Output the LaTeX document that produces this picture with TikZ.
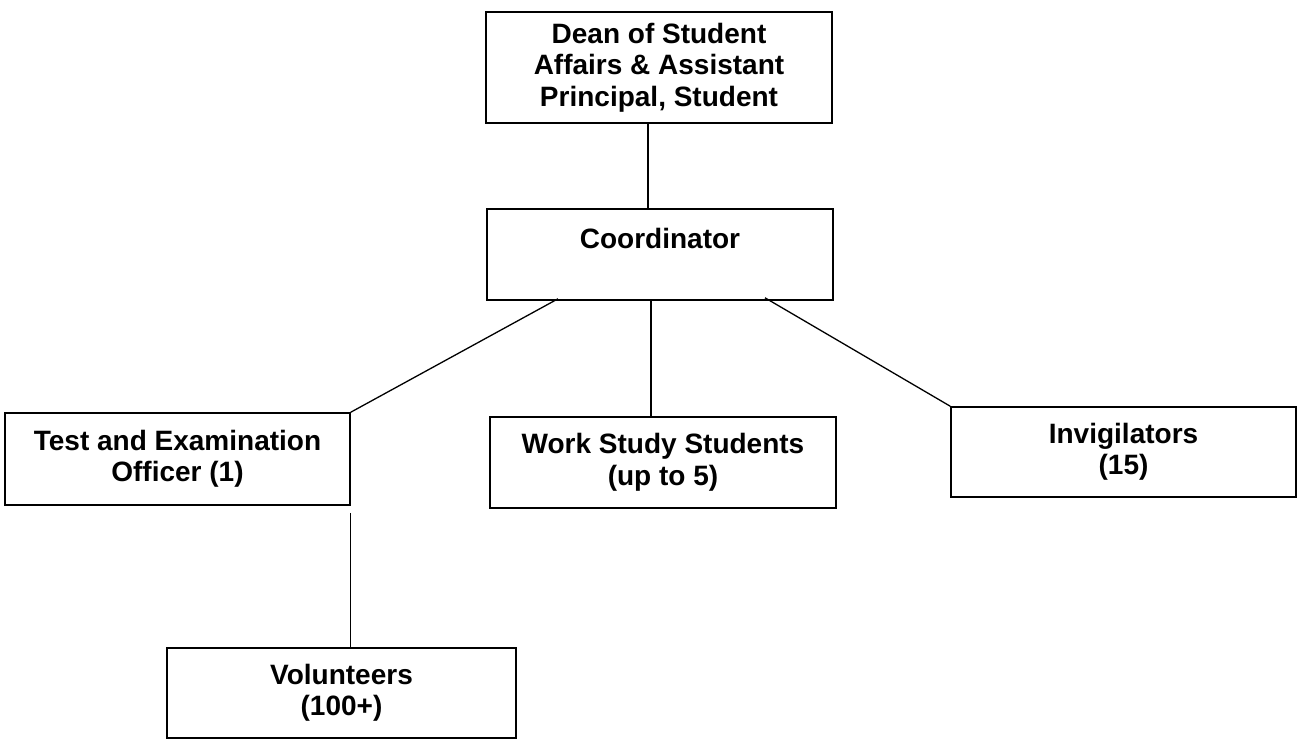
\documentclass[tikz,border=0pt]{standalone}
\usepackage{fontspec}
\setmainfont{Liberation Sans}
\begin{document}
\begin{tikzpicture}[x=1pt,y=-1pt,
  orgbox/.style={draw=black, line width=1.6pt, rectangle, inner sep=0pt, align=center,
    font=\fontsize{28}{31.5}\selectfont\bfseries},
  link/.style={draw=black, line width=1.3pt}]
\useasboundingbox (0,0) rectangle (1298,741);
\node[orgbox, minimum width=346pt, minimum height=111pt] (dean) at (659,67.5)
  {Dean of Student\\Affairs \& Assistant\\Principal, Student};
\node[orgbox, minimum width=346pt, minimum height=91pt] (coord) at (660,254.5)
  {Coordinator\\\mbox{}};
\node[orgbox, minimum width=345pt, minimum height=92pt] (test) at (177.5,459)
  {Test and Examination\\Officer (1)};
\node[orgbox, minimum width=346pt, minimum height=91pt] (work) at (663,462.5)
  {Work Study Students\\(up to 5)};
\node[orgbox, minimum width=345pt, minimum height=90pt] (invig) at (1123.5,452)
  {Invigilators\\(15)};
\node[orgbox, minimum width=349pt, minimum height=90pt] (vol) at (341.5,693)
  {Volunteers\\(100+)};
\draw[link] ([xshift=-11pt]dean.south) -- ([xshift=-12pt]coord.north);
\draw[link] ([xshift=-9pt]coord.south) -- ([xshift=-12pt]work.north);
\draw[link] ([xshift=-102pt,yshift=2pt]coord.south) -- (test.north east);
\draw[link] ([xshift=105pt,yshift=3pt]coord.south) -- (invig.north west);
\draw[link] ([yshift=-7pt]test.south east) -- (test.south east |- vol.north);
\end{tikzpicture}
\end{document}
